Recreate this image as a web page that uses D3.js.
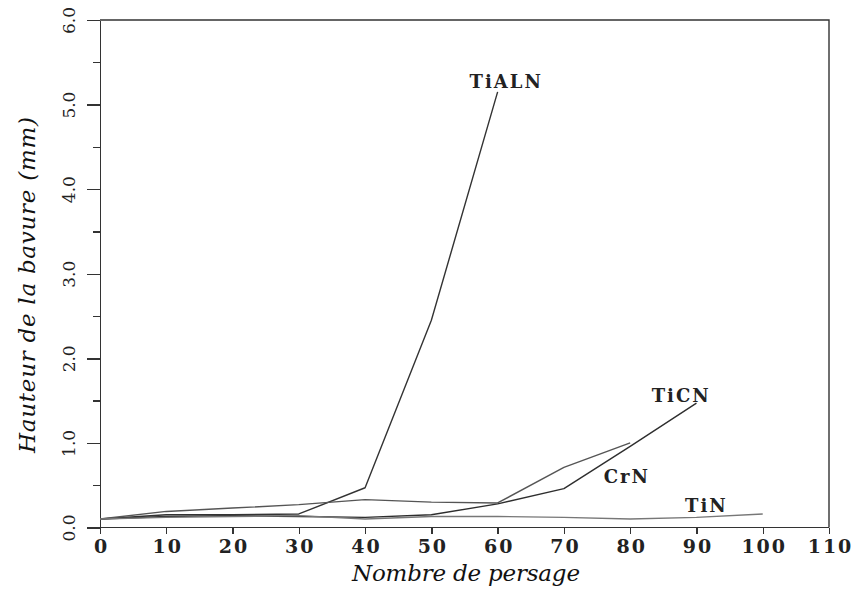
<!DOCTYPE html>
<html lang="fr">
<head>
    <meta charset="UTF-8">
    <title>Hauteur de la bavure</title>
    <script src="https://d3js.org/d3.v7.min.js"></script>
    <style>
        body {
            margin: 0;
            background-color: #ffffff;
        }
        .axis path, .axis line {
            stroke: #333;
            stroke-width: 1.4;
            shape-rendering: crispEdges;
        }
        .axis--x text {
            font-family: 'DejaVu Serif', serif;
            font-size: 19px;
            font-weight: bold;
            letter-spacing: 2px;
            fill: #222;
        }
        .axis--y text {
            font-family: 'DejaVu Serif', serif;
            font-size: 17px;
            fill: #222;
        }
        .title {
            font-family: 'DejaVu Serif', serif;
            font-style: italic;
            font-size: 23px;
            fill: #111;
        }
        .serie {
            fill: none;
            stroke-width: 1.4;
            stroke-linejoin: round;
        }
        .label {
            font-family: 'DejaVu Serif', serif;
            font-weight: bold;
            font-size: 18px;
            fill: #222;
        }
    </style>
</head>
<body>
    <svg width="854" height="592" class="chart"></svg>

    <script>
        // Nombre de persage (x) for each coating
        const xTiAlN = [0, 10, 20, 30, 40, 50, 60];
        const yTiAlN = [0.10, 0.15, 0.15, 0.16, 0.47, 2.45, 5.15];

        const xTiCN = [0, 10, 20, 30, 40, 50, 60, 70, 80, 90];
        const yTiCN = [0.10, 0.13, 0.14, 0.13, 0.12, 0.15, 0.28, 0.46, 0.96, 1.47];

        const xCrN = [0, 10, 20, 30, 40, 50, 60, 70, 80];
        const yCrN = [0.10, 0.19, 0.23, 0.27, 0.33, 0.30, 0.29, 0.71, 1.00];

        const xTiN = [0, 10, 20, 30, 40, 50, 60, 70, 80, 90, 100];
        const yTiN = [0.10, 0.12, 0.13, 0.14, 0.10, 0.13, 0.13, 0.12, 0.10, 0.12, 0.16];

        const xTicks = [0, 10, 20, 30, 40, 50, 60, 70, 80, 90, 100, 110];
        const yMajorTicks = [0, 1, 2, 3, 4, 5, 6];
        const yMinorTicks = [0.5, 1.5, 2.5, 3.5, 4.5, 5.5];

        // label text and anchor in data units
        const labelNames = ["TiALN", "TiCN", "CrN", "TiN"];
        const labelX = [61.3, 87.7, 79.5, 91.5];
        const labelY = [5.2, 1.48, 0.53, 0.18];

        const series = [
            { name: "TiAlN", xs: xTiAlN, ys: yTiAlN, color: "#333" },
            { name: "TiCN", xs: xTiCN, ys: yTiCN, color: "#2e2e2e" },
            { name: "CrN", xs: xCrN, ys: yCrN, color: "#555" },
            { name: "TiN", xs: xTiN, ys: yTiN, color: "#777" }
        ];

        const svg = d3.select(".chart");
        const margin = { top: 20, right: 25, bottom: 64.5, left: 100 };
        const width = +svg.attr("width");
        const height = +svg.attr("height");

        const xScale = d3.scaleLinear()
            .domain([0, 110])
            .range([margin.left, width - margin.right]);

        const yScale = d3.scaleLinear()
            .domain([0, 6])
            .range([height - margin.bottom, margin.top]);

        // frame (top and right)
        svg.append("path")
            .attr("d", `M${xScale(0)},${yScale(6)}H${xScale(110)}V${yScale(0)}`)
            .attr("fill", "none")
            .attr("stroke", "#333")
            .attr("stroke-width", 1.4);

        // y minor ticks
        svg.append("g")
            .attr("class", "axis axis--y")
            .attr("transform", `translate(${xScale(0)},0)`)
            .call(d3.axisLeft(yScale).tickValues(yMinorTicks).tickSize(7).tickFormat(""))
            .call(g => g.select(".domain").remove());

        // y major ticks
        svg.append("g")
            .attr("class", "axis axis--y")
            .attr("transform", `translate(${xScale(0)},0)`)
            .call(d3.axisLeft(yScale).tickValues(yMajorTicks).tickSize(13).tickSizeOuter(0).tickFormat(d3.format(".1f")))
            .call(g => g.selectAll(".tick text")
                .attr("text-anchor", "middle")
                .attr("dy", null)
                .attr("x", null)
                .attr("transform", "translate(-25,0) rotate(-90)"));

        // x axis
        svg.append("g")
            .attr("class", "axis axis--x")
            .attr("transform", `translate(0,${yScale(0)})`)
            .call(d3.axisBottom(xScale).tickValues(xTicks).tickSize(6).tickSizeOuter(0).tickPadding(6))
            .call(g => g.select(".domain").attr("d", `M${xScale(0) - 13},0H${xScale(110)}`))
            .call(g => g.selectAll(".tick text").attr("dx", "1px"));

        // lines
        const line = d3.line()
            .x(d => xScale(d[0]))
            .y(d => yScale(d[1]));

        svg.selectAll(".serie")
            .data(series)
            .enter()
            .append("path")
            .attr("class", "serie")
            .attr("stroke", d => d.color)
            .attr("d", d => line(d.xs.map((x, i) => [x, d.ys[i]])));

        // labels
        svg.selectAll(".label")
            .data(labelNames)
            .enter()
            .append("text")
            .attr("class", "label")
            .attr("text-anchor", "middle")
            .attr("x", (d, i) => xScale(labelX[i]))
            .attr("y", (d, i) => yScale(labelY[i]))
            .attr("letter-spacing", "2px")
            .text(d => d);

        // axis titles
        svg.append("text")
            .attr("class", "title")
            .attr("text-anchor", "middle")
            .attr("x", 466)
            .attr("y", 581)
            .attr("textLength", 228)
            .text("Nombre de persage");

        svg.append("text")
            .attr("class", "title")
            .attr("text-anchor", "middle")
            .attr("transform", "translate(35,285) rotate(-90)")
            .attr("textLength", 336)
            .text("Hauteur de la bavure (mm)");
    </script>
</body>
</html>
